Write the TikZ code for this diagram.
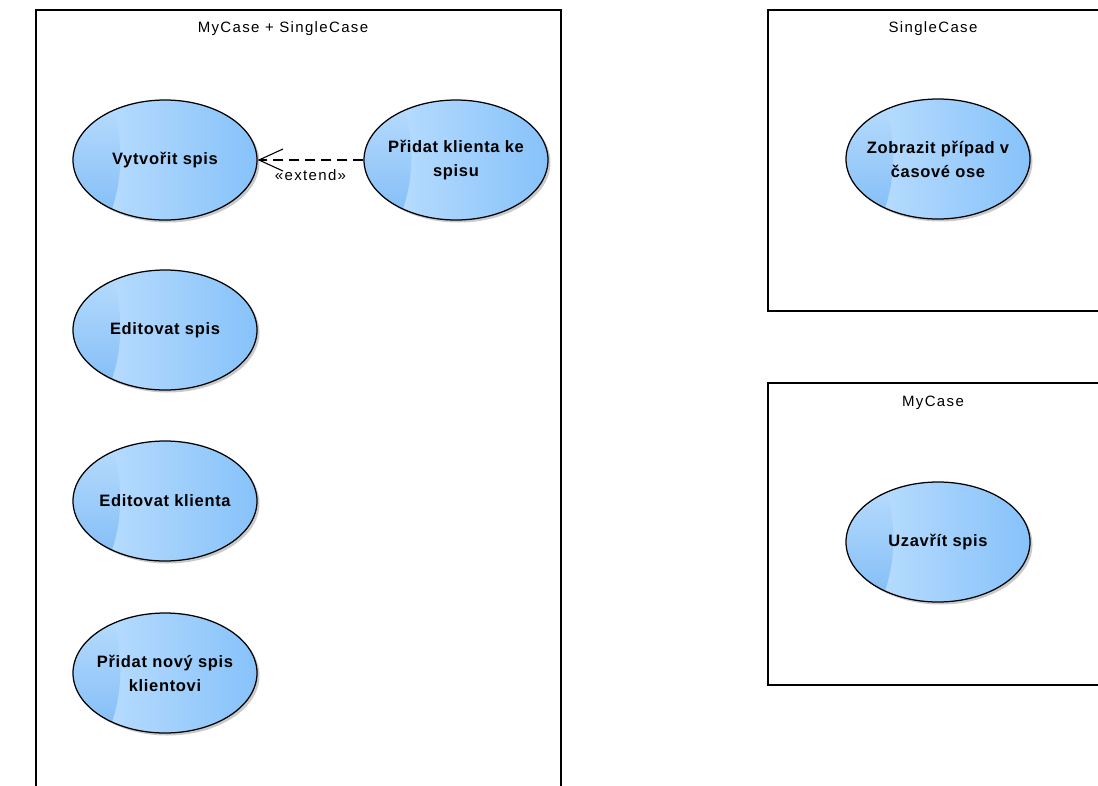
\documentclass[tikz,border=0pt]{standalone}
\usepackage{fontspec}
\setmainfont{Liberation Sans}
\newfontfamily\titlefont[LetterSpace=9]{Liberation Sans}
\newfontfamily\labelfont[LetterSpace=4]{Liberation Sans}
\usetikzlibrary{shapes.geometric,shadows,arrows.meta}
\definecolor{ucLight}{HTML}{C2E1FF}
\definecolor{ucDark}{HTML}{86C2FA}
\definecolor{ucMoonTop}{HTML}{BADDFD}
\definecolor{ucMoonBot}{HTML}{80BCF7}
\tikzset{
  frame/.style={draw=black, line width=1.1pt},
  frametitle/.style={font=\titlefont\fontsize{15}{18}\selectfont, anchor=center},
  usecase/.style={ellipse, draw=black, line width=1.25pt, minimum width=184pt,
    minimum height=120pt, inner xsep=-60pt, inner ysep=-30pt, align=center,
    font=\labelfont\bfseries\fontsize{16.5}{24}\selectfont,
    left color=ucLight, right color=ucDark,
    drop shadow={shadow xshift=2.5pt, shadow yshift=-2.5pt, opacity=0.35, fill=black!60},
    path picture={
      \shade[top color=ucMoonTop, bottom color=ucMoonBot]
        ([xshift=-54pt,yshift=62pt]path picture bounding box.center)
        .. controls ([xshift=-42pt,yshift=20pt]path picture bounding box.center)
        and ([xshift=-40pt,yshift=-20pt]path picture bounding box.center)
        .. ([xshift=-58pt,yshift=-62pt]path picture bounding box.center)
        -- ([xshift=-100pt,yshift=-62pt]path picture bounding box.center)
        -- ([xshift=-100pt,yshift=62pt]path picture bounding box.center) -- cycle;
    }},
  extendline/.style={dashed, dash pattern=on 10pt off 6pt, line width=1.1pt,
    -{Straight Barb[length=24pt,width=22pt,line width=1.1pt]}},
}
\begin{document}
\begin{tikzpicture}[x=1pt,y=-1pt]
\useasboundingbox (0,0) rectangle (1098,785);

% packages
\draw[frame] (36,800) -- (36,10) -- (561,10) -- (561,800);
\node[frametitle] (t1) at (283,29) {MyCase + SingleCase};
\draw[frame] (1110,10) -- (768,10) -- (768,311) -- (1110,311);
\node[frametitle] (t2) at (933,29) {SingleCase};
\draw[frame] (1110,383) -- (768,383) -- (768,685) -- (1110,685);
\node[frametitle] (t3) at (933,403) {MyCase};

% use cases
\node[usecase] (vytvorit) at (165,160) {Vytvořit spis};
\node[usecase] (pridatkl) at (456,160) {Přidat klienta ke\\spisu};
\node[usecase] (editspis) at (165,330) {Editovat spis};
\node[usecase] (editkl) at (165,501) {Editovat klienta};
\node[usecase] (pridatnovy) at (165,673) {Přidat nový spis\\klientovi};
\node[usecase] (zobrazit) at (938,159) {Zobrazit případ v\\časové ose};
\node[usecase] (uzavrit) at (938,542) {Uzavřít spis};

% extend relation
\draw[extendline] (pridatkl) -- node[below=6pt, frametitle, anchor=north] {«extend»} (vytvorit);
\end{tikzpicture}
\end{document}
